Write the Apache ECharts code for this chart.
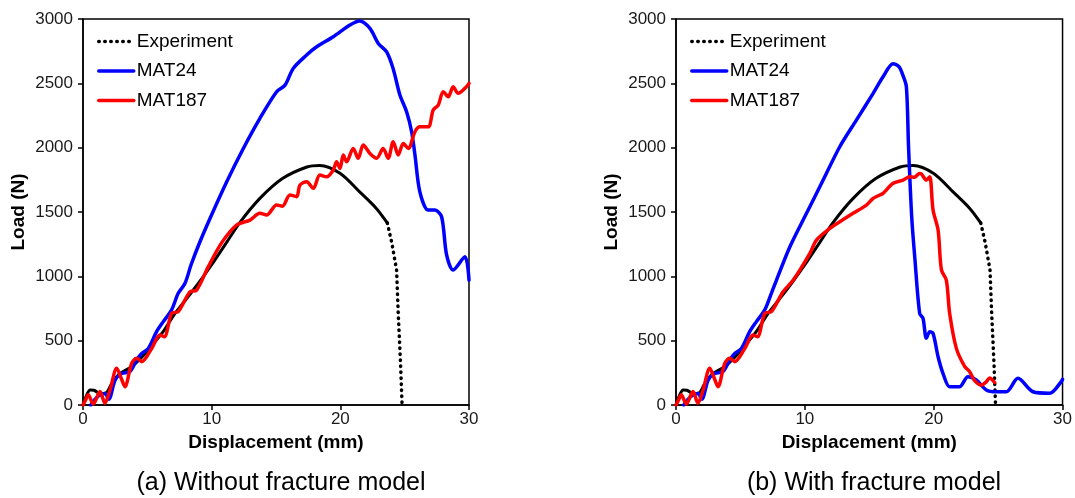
<!DOCTYPE html>
<html>
<head>
<meta charset="utf-8">
<script src="https://cdn.jsdelivr.net/npm/echarts@6/dist/echarts.min.js"></script>
<style>
  html, body { margin: 0; padding: 0; background: #fff; }
  #main { width: 1075px; height: 498px; }
</style>
</head>
<body>
<div id="main"></div>
<script>
// displacement (mm), load (N)
var expSolid = [[0,0],[0.3,80],[0.55,117],[0.85,115],[1.3,90],[1.8,95],[2.2,160],[2.75,235],[3.8,300],[4.6,375],[5.5,480],[6.3,580],[7.15,712],[8,820],[9,950],[10,1090],[11.2,1270],[12.2,1420],[13.75,1606],[15.5,1760],[17.4,1850],[18.4,1862],[20,1800],[21.5,1657],[22.8,1528],[23.65,1415]];
var expDotted = [[23.65,1415],[24,1260],[24.37,1050],[24.5,712],[24.68,324],[24.8,0]];

var mat24A = [[0.6,0],[0.9,40],[1.2,70],[1.7,90],[2.0,45],[2.5,195],[3.0,245],[3.65,260],[4.17,350],[4.56,400],[5.08,440],[5.72,570],[6.24,648],[6.89,740],[7.4,868],[7.93,946],[8.4,1090],[9.09,1269],[9.87,1450],[11.17,1735],[12.46,1994],[13.75,2228],[15.05,2435],[15.7,2486],[16.34,2616],[17.38,2720],[18.16,2784],[19.45,2862],[20.75,2953],[21.5,2984],[22.3,2927],[22.95,2810],[23.6,2745],[24.1,2616],[24.63,2409],[25.15,2279],[25.54,2124],[25.8,1943],[26.18,1657],[26.83,1515],[27.35,1515],[27.87,1463],[28.26,1166],[28.77,1049],[29.68,1152],[30,971]];
var mat187A = [[0,0],[0.2,40],[0.41,80],[0.8,8],[1.32,104],[1.7,13],[2.1,117],[2.62,285],[3.0,200],[3.26,142],[3.78,324],[4.17,363],[4.56,337],[5.34,440],[5.98,544],[6.32,531],[6.89,712],[7.4,725],[8.31,880],[8.83,893],[9.74,1075],[10.77,1260],[11.94,1399],[12.98,1437],[13.75,1490],[14.27,1476],[15.05,1554],[15.5,1545],[16.08,1632],[16.6,1619],[16.86,1709],[17.38,1735],[17.9,1684],[18.41,1787],[18.93,1774],[19.45,1826],[19.71,1890],[19.97,1839],[20.23,1943],[20.49,1890],[21.0,1994],[21.39,1917],[21.78,2020],[22.3,1955],[22.82,1917],[23.33,1994],[23.72,1917],[24.11,2046],[24.5,1943],[24.89,2033],[25.28,1994],[25.8,2124],[26.18,2162],[26.83,2162],[27.22,2292],[27.61,2331],[28.0,2435],[28.39,2396],[28.77,2473],[29.16,2422],[29.8,2473],[30,2500]];

var mat24B = [[0.6,0],[0.9,40],[1.2,70],[1.7,90],[2.0,45],[2.5,195],[3.0,245],[3.65,260],[4.17,350],[4.56,400],[5.08,440],[5.72,570],[6.24,648],[6.89,740],[7.4,868],[7.8,971],[8.84,1230],[10.13,1490],[11.42,1748],[12.71,2007],[14.0,2214],[15.3,2422],[16.07,2551],[16.85,2652],[17.3,2630],[17.62,2560],[17.88,2473],[18.05,2000],[18.3,1450],[18.53,1150],[18.91,712],[19.17,674],[19.43,518],[19.69,570],[19.95,557],[20.34,375],[20.72,246],[21.24,142],[22.0,142],[22.66,220],[23.3,194],[24.08,117],[24.86,103],[25.63,103],[26.54,207],[27.7,103],[29.0,91],[29.9,181],[30,200]];
var mat187B = [[0,0],[0.2,40],[0.41,80],[0.8,8],[1.32,104],[1.7,13],[2.1,117],[2.62,285],[3.0,200],[3.26,142],[3.78,324],[4.17,363],[4.56,337],[5.34,440],[5.98,544],[6.32,531],[6.89,712],[7.4,725],[8.31,880],[9.1,971],[10.39,1179],[10.9,1282],[11.94,1373],[12.71,1424],[13.74,1490],[14.78,1554],[15.3,1606],[15.81,1632],[16.07,1645],[16.85,1723],[17.62,1748],[18.14,1774],[18.5,1770],[18.91,1800],[19.05,1795],[19.43,1748],[19.69,1774],[19.95,1515],[20.34,1360],[20.6,1050],[20.98,971],[21.24,712],[21.76,440],[22.4,300],[22.79,259],[23.18,190],[23.7,155],[24.08,180],[24.34,210],[24.73,175]];

var legendNames = ['Experiment', 'MAT24', 'MAT187'];
var captions = ['(a) Without fracture model', '(b) With fracture model'];

var FONT = '"Liberation Sans", Arial, sans-serif';
var chart = echarts.init(document.getElementById('main'));

function xAx(idx) {
    return {
        gridIndex: idx, type: 'value', min: 0, max: 30, interval: 10,
        name: 'Displacement (mm)', nameLocation: 'middle', nameGap: 24,
        nameTextStyle: { fontFamily: FONT, fontSize: 19, fontWeight: 'bold', color: '#000' },
        axisLine: { lineStyle: { color: '#000', width: 1.5 } },
        axisTick: { show: true, length: 5, lineStyle: { color: '#000', width: 1.5 } },
        axisLabel: { fontFamily: FONT, fontSize: 17, color: '#1a1a1a', margin: 6 },
        splitLine: { show: false }
    };
}
function yAx(idx) {
    return {
        gridIndex: idx, type: 'value', min: 0, max: 3000, interval: 500,
        name: 'Load (N)', nameLocation: 'middle', nameGap: 55,
        nameTextStyle: { fontFamily: FONT, fontSize: 19, fontWeight: 'bold', color: '#000' },
        axisLine: { show: true, lineStyle: { color: '#000', width: 1.5 } },
        axisTick: { show: true, length: 5, lineStyle: { color: '#000', width: 1.5 } },
        axisLabel: { fontFamily: FONT, fontSize: 17, color: '#1a1a1a', margin: 10,
                     formatter: function (v) { return String(v); } },
        splitLine: { show: false }
    };
}
function line(name, data, idx, color, width, dash) {
    return {
        type: 'line', name: name, data: data, xAxisIndex: idx, yAxisIndex: idx,
        symbol: 'none', smooth: dash ? false : 0.3, silent: true,
        lineStyle: { color: color, width: width, type: dash || 'solid', cap: 'round' },
        itemStyle: { color: color }
    };
}
function legendAt(left) {
    return {
        left: left, top: 27, orient: 'vertical', itemWidth: 35, itemHeight: 19, itemGap: 10.5,
        data: legendNames, selectedMode: false,
        itemStyle: { opacity: 0 },
        lineStyle: { width: 3.5, cap: 'round' },
        textStyle: { fontFamily: FONT, fontSize: 19, color: '#000', padding: [0, 0, 0, -2] }
    };
}

chart.setOption({
    animation: false,
    title: [
        { text: captions[0], left: 276, top: 466, textAlign: 'center',
          textStyle: { fontFamily: FONT, fontSize: 25, fontWeight: 'normal', color: '#000' } },
        { text: captions[1], left: 869, top: 466, textAlign: 'center',
          textStyle: { fontFamily: FONT, fontSize: 25, fontWeight: 'normal', color: '#000' } }
    ],
    legend: [legendAt(92), legendAt(685)],
    grid: [
        { left: 83, right: 606, top: 19, bottom: 93, show: true, borderColor: '#000', borderWidth: 1.5 },
        { left: 676, right: 12, top: 19, bottom: 93, show: true, borderColor: '#000', borderWidth: 1.5 }
    ],
    xAxis: [xAx(0), xAx(1)],
    yAxis: [yAx(0), yAx(1)],
    series: [
        line('Experiment', expDotted, 0, '#000', 3.5, [0.5, 5.5]),
        line('Experiment', expSolid, 0, '#000', 3),
        line('MAT24', mat24A, 0, '#0000ff', 3.5),
        line('MAT187', mat187A, 0, '#ff0000', 3.5),
        line('Experiment', expDotted, 1, '#000', 3.5, [0.5, 5.5]),
        line('Experiment', expSolid, 1, '#000', 3),
        line('MAT24', mat24B, 1, '#0000ff', 3.5),
        line('MAT187', mat187B, 1, '#ff0000', 3.5)
    ]
});
</script>
</body>
</html>
